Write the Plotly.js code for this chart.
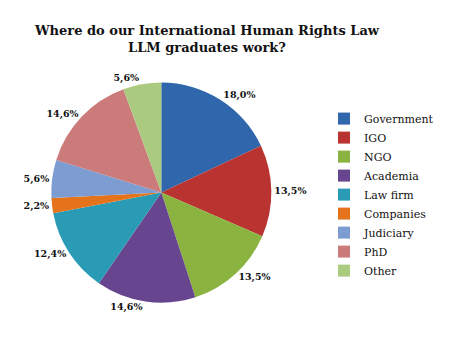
<!DOCTYPE html>
<html>
<head>
<meta charset="utf-8">
<script src="https://cdn.plot.ly/plotly-3.0.1.min.js"></script>
<style>html,body{margin:0;padding:0;background:#fff;}#chart{width:450px;height:347px;}</style>
</head>
<body>
<div id="chart"></div>
<script>
const categories = ["Government","IGO","NGO","Academia","Law firm","Companies","Judiciary","PhD","Other"];
const shares = [18.0, 13.5, 13.5, 14.6, 12.4, 2.2, 5.6, 14.6, 5.6];
const colors = ["#2F66AC","#B93431","#8AB43F","#68468F","#2A9BB4","#E5731C","#7D9CD2","#CB7B7A","#A9CA7F"];

const trace = {
  type: "pie",
  labels: categories,
  values: shares,
  sort: false,
  direction: "clockwise",
  rotation: 0,
  marker: {colors: colors, line: {width: 0}},
  textposition: "outside",
  texttemplate: "%{percent:.1%}",
  textfont: {family: "DejaVu Serif", size: 9.5, color: "#111", weight: "bold"},
  hoverinfo: "label+percent",
  domain: {x: [0.114, 0.603], y: [0.12, 0.77]},
  automargin: false
};

const layout = {
  width: 450, height: 347,
  margin: {l: 0, r: 0, t: 0, b: 0},
  paper_bgcolor: "#fff",
  separators: ",.",
  title: {
    text: "<b>Where do our International Human Rights Law<br>LLM graduates work?</b>",
    font: {family: "DejaVu Serif", size: 13, color: "#111"},
    x: 0.46, xanchor: "center", y: 0.9, yanchor: "top"
  },
  showlegend: true,
  legend: {
    x: 0.72, xanchor: "left", y: 0.70, yanchor: "top",
    font: {family: "DejaVu Serif", size: 11, color: "#111"},
    itemwidth: 30, bgcolor: "rgba(0,0,0,0)"
  }
};

Plotly.newPlot("chart", [trace], layout, {displayModeBar: false, staticPlot: true});
</script>
</body>
</html>
